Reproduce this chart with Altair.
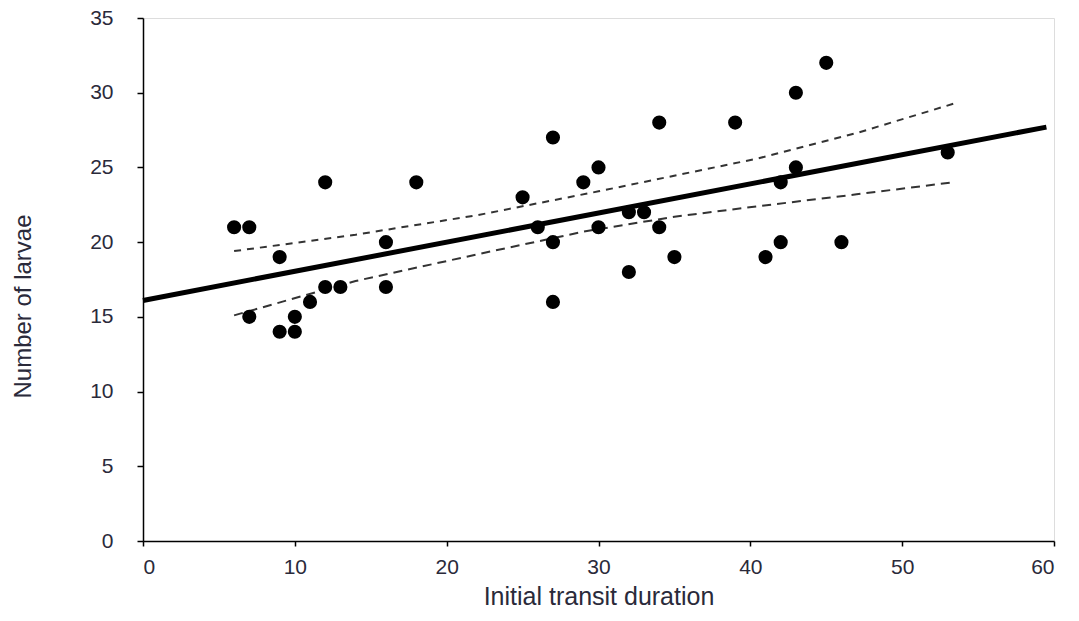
import altair as alt
import pandas as pd

# Observed points
transit = [6, 7, 7, 9, 9, 10, 10, 11, 12, 12, 13, 16, 16, 18, 25, 26, 27, 27, 27,
           29, 30, 30, 32, 32, 33, 34, 34, 35, 39, 41, 42, 42, 43, 43, 45, 46, 53]
larvae = [21, 21, 15, 19, 14, 14, 15, 16, 17, 24, 17, 20, 17, 24, 23, 21, 27, 20, 16,
          24, 25, 21, 22, 18, 22, 28, 21, 19, 28, 19, 24, 20, 30, 25, 32, 20, 26]

# Regression line
reg_x = [0, 59.5]
reg_y = [16.1, 27.7]

# Confidence bands
upper_x = [6, 14, 22, 30, 40.5, 47, 53.5]
upper_y = [19.4, 20.5, 21.8, 23.4, 25.6, 27.3, 29.3]
lower_x = [6, 14, 23, 29, 35, 40.5, 47, 53.3]
lower_y = [15.1, 17.4, 19.4, 20.7, 21.7, 22.4, 23.2, 24.0]

pts = pd.DataFrame({"x": transit, "y": larvae})
reg = pd.DataFrame({"x": reg_x, "y": reg_y})
up = pd.DataFrame({"x": upper_x, "y": upper_y})
lo = pd.DataFrame({"x": lower_x, "y": lower_y})

xs = alt.Scale(domain=[0, 60], nice=False, zero=False)
ys = alt.Scale(domain=[0, 35], nice=False, zero=False)

LBL = "Liberation Sans"
TTL = "Liberation Sans"

xaxis = alt.Axis(values=[0, 10, 20, 30, 40, 50, 60], title="Initial transit duration",
                 grid=False, domainColor="black", domainWidth=1.5, tickColor="black",
                 tickWidth=1.5, tickSize=5, labelPadding=10, labelFontSize=21,
                 labelColor="#2a2a3a", labelFont=LBL, titleFont=TTL,
                 titleFontSize=25, titleFontWeight="normal", titleColor="#2a2a3a",
                 titlePadding=7)
yaxis = alt.Axis(values=[0, 5, 10, 15, 20, 25, 30, 35], title="Number of larvae",
                 grid=False, domainColor="black", domainWidth=1.5, tickColor="black",
                 tickWidth=1.5, tickSize=6, labelPadding=24, labelFontSize=21,
                 labelColor="#2a2a3a", labelFont=LBL, titleFont=TTL,
                 titleFontSize=24, titleFontWeight="normal", titleColor="#2a2a3a",
                 titlePadding=54, titleY=288)

points = alt.Chart(pts).mark_circle(size=200, color="black", opacity=1).encode(
    x=alt.X("x:Q", scale=xs, axis=xaxis),
    y=alt.Y("y:Q", scale=ys, axis=yaxis),
)
line = alt.Chart(reg).mark_line(color="black", strokeWidth=5).encode(
    x=alt.X("x:Q", scale=xs), y=alt.Y("y:Q", scale=ys))
upper = alt.Chart(up).mark_line(color="#333", strokeWidth=2, strokeDash=[7, 6]).encode(
    x=alt.X("x:Q", scale=xs), y=alt.Y("y:Q", scale=ys))
lower = alt.Chart(lo).mark_line(color="#333", strokeWidth=2, strokeDash=[9, 6]).encode(
    x=alt.X("x:Q", scale=xs), y=alt.Y("y:Q", scale=ys))

chart = alt.layer(upper, lower, line, points).properties(
    width=911, height=523,
    padding={"left": 143, "top": 18, "right": 25, "bottom": 80},
    autosize="none",
).configure_view(stroke=None).configure(background="white")

chart.save("out.html", embed_options={"renderer": "svg", "actions": False})
